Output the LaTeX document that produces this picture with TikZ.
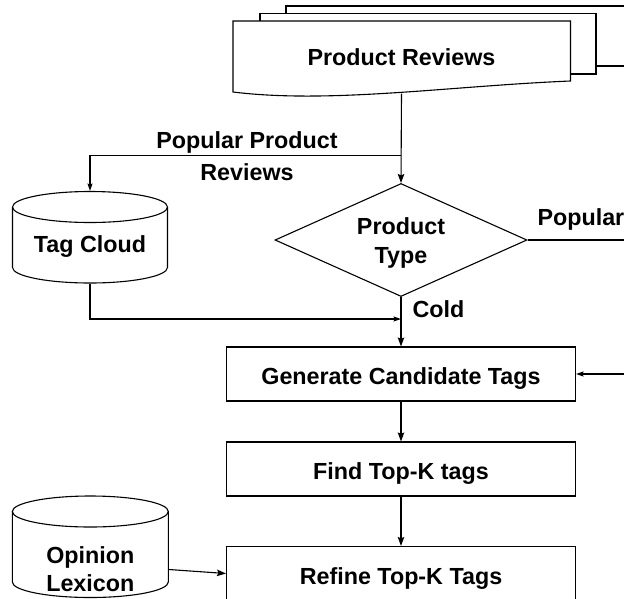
\documentclass[tikz,border=0pt]{standalone}
\usepackage{fontspec}
\setmainfont{Liberation Sans}
\usetikzlibrary{arrows.meta,shapes.geometric}
\begin{document}
\begin{tikzpicture}[x=1pt,y=-1pt,
  line width=1.1pt,
  txt/.style={font=\fontsize{23.3}{29}\selectfont\bfseries, inner sep=0pt},
  arr/.style={-{Stealth[length=9pt,width=6.5pt,inset=1.5pt]}},
  smallarr/.style={-{Stealth[length=7.5pt,width=5pt,inset=1.2pt]}},
  stepbox/.style={txt, draw, rectangle, minimum width=349pt, minimum height=54pt,
    text height=21pt, text depth=0pt},
  decision/.style={draw, diamond, aspect=2.2, minimum width=252pt,
    minimum height=113pt, inner sep=0pt},
]
\useasboundingbox (0,0) rectangle (624,598);
\clip (0,0) rectangle (624,598);

% stacked pages behind the front document
\draw[fill=white] (286,6) rectangle (660,66);
\draw[fill=white] (260,13.5) rectangle (596,74);
% front page with a wavy lower edge
\draw[fill=white] (233,21) -- (570.5,21) -- (570.5,81)
  .. controls (450,86) and (330,104) .. (233,92) -- cycle;
\node[txt, minimum width=337pt, minimum height=72pt,
  text height=23.6pt, text depth=6.4pt] (doc) at (401.5,57) {Product Reviews};

% Tag Cloud store
\draw (12.5,207) -- (12.5,267.5)
  arc[start angle=180, end angle=360, x radius=77.5pt, y radius=15.5pt] -- (167.5,207);
\draw (90,207) ellipse [x radius=77.5pt, y radius=15.5pt];
\node[txt, minimum width=155pt, minimum height=91.5pt,
  text height=31pt, text depth=0pt] (tag) at (90,237.25) {Tag Cloud};

% Opinion Lexicon store
\draw (12.3,511.5) -- (12.3,582)
  arc[start angle=180, end angle=360, x radius=78pt, y radius=15.5pt] -- (168.3,511.5);
\draw (90.3,511.5) ellipse [x radius=78pt, y radius=15.5pt];
\node[txt, align=center, minimum width=156pt,
  font=\fontsize{23.3}{28}\selectfont\bfseries] (lex) at (90.3,569.5) {Opinion\\Lexicon};

% decision and processing steps
\node[decision] (dia) at (401,240) {};
\node[txt, align=center] (dialbl) at (401,242.5) {Product\\Type};
\node[stepbox] (gen) at (401,374) {Generate Candidate Tags};
\node[stepbox] (find) at (401,469) {Find Top-K tags};
\node[stepbox] (refine) at (401,573.5) {Refine Top-K Tags};

% edge labels
\node[txt, align=center, font=\fontsize{23.3}{31.7}\selectfont\bfseries]
  (poplbl) at (247,156) {Popular Product\\Reviews};
\node[txt, anchor=west] (popular) at (537,219) {Popular};
\node[txt, anchor=west] (cold) at (412,309.5) {Cold};

% junction points
\coordinate (fork) at (401,155.5);
\coordinate (join) at (401,319);
\coordinate (loop) at (660,240);

% connectors
\draw[arr] (doc.south) -- (dia.north);
\draw[smallarr] (fork) -| (tag.north);
\draw[smallarr] (tag.south) |- (join);
\draw[arr] (dia.south) -- (gen.north);
\draw[smallarr] (dia.east) -- (loop) |- (gen.east);
\draw[arr] (gen.south) -- (find.north);
\draw[arr] (find.south) -- (refine.north);
\draw[arr] (lex.east) -- (refine.west);
\end{tikzpicture}
\end{document}
